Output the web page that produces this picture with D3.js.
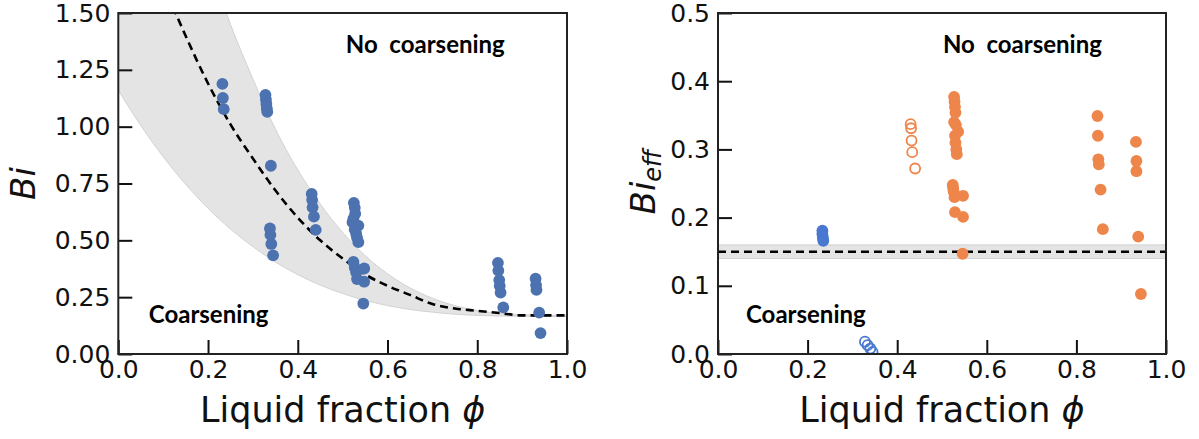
<!DOCTYPE html>
<html><head><meta charset="utf-8">
<script src="https://cdn.jsdelivr.net/npm/d3@7"></script>
<style>body{margin:0;background:#fff} svg{display:block;background:#fff}</style>
</head><body><svg id="c" width="1199" height="439"></svg>
<script>
// ---------- data ----------
const xTicks = [0, 0.2, 0.4, 0.6, 0.8, 1.0];
const leftYTicks = [0, 0.25, 0.5, 0.75, 1.0, 1.25, 1.5];
const rightYTicks = [0, 0.1, 0.2, 0.3, 0.4, 0.5];

// model curve (left panel)
const curvePhi    = [0, 0.05, 0.1, 0.15, 0.2, 0.25, 0.3, 0.35, 0.4, 0.45, 0.5, 0.55, 0.6, 0.65, 0.7, 0.75, 0.8, 0.85, 0.9, 0.95, 1.0];
const dashedBi    = [2.17, 1.89, 1.63, 1.40, 1.19, 1.01, 0.86, 0.72, 0.60, 0.50, 0.42, 0.35, 0.30, 0.26, 0.22, 0.20, 0.19, 0.18, 0.17, 0.17, 0.17];
const bandUpperBi = [3.30, 2.84, 2.43, 2.06, 1.74, 1.45, 1.21, 0.99, 0.81, 0.66, 0.535, 0.433, 0.353, 0.291, 0.245, 0.213, 0.191, 0.179, 0.173, 0.171, 0.17];
const bandLowerBi = [1.16, 1.005, 0.868, 0.747, 0.641, 0.55, 0.472, 0.405, 0.349, 0.303, 0.266, 0.236, 0.213, 0.196, 0.184, 0.175, 0.17, 0.167, 0.166, 0.165, 0.165];

// left panel points
const leftPhi = [0.232, 0.233, 0.235,
  0.328, 0.329, 0.330, 0.331, 0.332, 0.340,
  0.338, 0.339, 0.341, 0.345,
  0.431, 0.432, 0.433, 0.436, 0.440,
  0.525, 0.527, 0.528, 0.524, 0.522, 0.535, 0.527, 0.530, 0.532, 0.535,
  0.524, 0.527, 0.530, 0.548, 0.532, 0.548, 0.546,
  0.846, 0.847, 0.849, 0.850, 0.852, 0.858,
  0.930, 0.931, 0.932, 0.938, 0.941];
const leftBi = [1.188, 1.126, 1.077,
  1.14, 1.12, 1.10, 1.08, 1.065, 0.828,
  0.552, 0.524, 0.484, 0.434,
  0.704, 0.678, 0.645, 0.604, 0.546,
  0.665, 0.643, 0.617, 0.595, 0.58, 0.565, 0.548, 0.53, 0.512, 0.492,
  0.405, 0.38, 0.36, 0.376, 0.33, 0.318, 0.222,
  0.401, 0.367, 0.325, 0.30, 0.27, 0.205,
  0.331, 0.303, 0.282, 0.182, 0.092];

// right panel
const bieffLine = 0.15;
const bieffBand = [0.14, 0.16];
const blueFilledPhi = [0.233, 0.233, 0.234, 0.235];
const blueFilledBi  = [0.181, 0.176, 0.171, 0.166];
const blueOpenPhi = [0.328, 0.334, 0.340, 0.345];
const blueOpenBi  = [0.018, 0.013, 0.008, 0.003];
const orangeOpenPhi = [0.430, 0.431, 0.432, 0.4335, 0.440];
const orangeOpenBi  = [0.337, 0.331, 0.313, 0.296, 0.272];
const orangeFilledPhi = [0.527, 0.528, 0.529, 0.530, 0.527, 0.531, 0.536, 0.529, 0.530, 0.532, 0.533,
  0.524, 0.525, 0.526, 0.528, 0.547, 0.529, 0.547, 0.546,
  0.847, 0.848, 0.849, 0.850, 0.854, 0.859,
  0.933, 0.934, 0.934, 0.938, 0.944];
const orangeFilledBi = [0.377, 0.370, 0.362, 0.354, 0.340, 0.336, 0.326, 0.320, 0.310, 0.300, 0.293,
  0.248, 0.243, 0.238, 0.230, 0.232, 0.208, 0.201, 0.147,
  0.349, 0.320, 0.2855, 0.278, 0.241, 0.183,
  0.311, 0.283, 0.268, 0.172, 0.088];

// ---------- drawing ----------
const svg = d3.select("#c");
const FONT = "DejaVu Sans, sans-serif";
const ANN = "Lato, 'Open Sans', sans-serif";
const C_DEEP = "#4c72b0", C_BLUE = "#4878d0", C_ORANGE = "#ee854a";

function panel(id, x0, x1, yMax, yTicks, yFmt) {
  const top = 13, bottom = 354;
  const x = d3.scaleLinear().domain([0, 1]).range([x0, x1]);
  const y = d3.scaleLinear().domain([0, yMax]).range([bottom, top]);
  svg.append("clipPath").attr("id", id).append("rect")
    .attr("x", x0).attr("y", top).attr("width", x1 - x0).attr("height", bottom - top);
  const g = svg.append("g").attr("clip-path", `url(#${id})`);
  return {x, y, g, x0, x1, top, bottom, yTicks, yFmt};
}

function axes(p) {
  const xa = d3.axisBottom(p.x).tickValues(xTicks).tickFormat(d3.format(".1f"))
    .tickSizeInner(-14).tickSizeOuter(0).tickPadding(6);
  const ya = d3.axisLeft(p.y).tickValues(p.yTicks).tickFormat(d3.format(p.yFmt))
    .tickSizeInner(-14).tickSizeOuter(0).tickPadding(8);
  const gx = svg.append("g").attr("transform", `translate(0,${p.bottom})`).call(xa);
  const gy = svg.append("g").attr("transform", `translate(${p.x0},0)`).call(ya);
  [gx, gy].forEach(a => {
    a.select(".domain").remove();
    a.selectAll("line").attr("stroke", "#111").attr("stroke-width", 2);
    a.selectAll("text").attr("font-family", FONT).attr("font-size", 25).attr("fill", "#111");
  });
  svg.append("rect").attr("x", p.x0).attr("y", p.top)
    .attr("width", p.x1 - p.x0).attr("height", p.bottom - p.top)
    .attr("fill", "none").attr("stroke", "#222").attr("stroke-width", 2);
  const xl = svg.append("text").attr("x", (p.x0 + p.x1) / 2).attr("y", 422)
    .attr("text-anchor", "middle").attr("font-family", FONT).attr("font-size", 35).attr("fill", "#111");
  xl.append("tspan").text("Liquid fraction ");
  xl.append("tspan").attr("font-style", "italic").text("\u03d5");
}

function dots(p, phis, vals, color, open) {
  p.g.append("g").selectAll("circle").data(phis).join("circle")
    .attr("cx", d => p.x(d)).attr("cy", (d, i) => p.y(vals[i]))
    .attr("r", open ? 5 : 5.9)
    .attr("fill", open ? "none" : color)
    .attr("stroke", open ? color : "none")
    .attr("stroke-width", open ? 1.8 : 0);
}

function annot(x, y, txt) {
  svg.append("text").attr("x", x).attr("y", y).attr("font-family", ANN)
    .attr("font-weight", "bold").attr("font-size", 24).attr("fill", "#000").text(txt);
}

// Left panel
const L = panel("clipL", 118.3, 567, 1.5, leftYTicks, ".2f");
const bandData = curvePhi.map((d, i) => ({phi: d, lo: bandLowerBi[i], hi: bandUpperBi[i], mid: dashedBi[i]}));
L.g.append("path").datum(bandData)
  .attr("d", d3.area().x(d => L.x(d.phi)).y0(d => L.y(d.lo)).y1(d => L.y(d.hi)).curve(d3.curveMonotoneX))
  .attr("fill", "#e4e4e4").attr("stroke", "#d2d2d2").attr("stroke-width", 1);
L.g.append("path").datum(bandData)
  .attr("d", d3.line().x(d => L.x(d.phi)).y(d => L.y(d.mid)).curve(d3.curveMonotoneX))
  .attr("fill", "none").attr("stroke", "#000").attr("stroke-width", 2.6).attr("stroke-dasharray", "8,5");
dots(L, leftPhi, leftBi, C_DEEP, false);
axes(L);
svg.append("text").attr("transform", "translate(35,183.5) rotate(-90)")
  .attr("text-anchor", "middle").attr("font-family", FONT).attr("font-size", 34)
  .attr("font-style", "italic").attr("fill", "#111").text("Bi");
annot(L.x(0.507), L.y(1.324), "No \u00a0coarsening");
annot(L.x(0.068), L.y(0.136), "Coarsening");

// Right panel
const R = panel("clipR", 718, 1166, 0.5, rightYTicks, ".1f");
R.g.append("rect").attr("x", R.x(0)).attr("width", R.x(1) - R.x(0))
  .attr("y", R.y(bieffBand[1])).attr("height", R.y(bieffBand[0]) - R.y(bieffBand[1]))
  .attr("fill", "#e4e4e4").attr("stroke", "#d2d2d2").attr("stroke-width", 1);
R.g.append("path").datum([0, 1])
  .attr("d", d3.line().x(d => R.x(d)).y(() => R.y(bieffLine)))
  .attr("fill", "none").attr("stroke", "#000").attr("stroke-width", 2.6).attr("stroke-dasharray", "8,5");
dots(R, blueFilledPhi, blueFilledBi, C_BLUE, false);
dots(R, blueOpenPhi, blueOpenBi, C_BLUE, true);
dots(R, orangeOpenPhi, orangeOpenBi, C_ORANGE, true);
dots(R, orangeFilledPhi, orangeFilledBi, C_ORANGE, false);
axes(R);
const yl = svg.append("text").attr("transform", "translate(655,182) rotate(-90)")
  .attr("text-anchor", "middle").attr("font-family", FONT).attr("font-size", 34)
  .attr("font-style", "italic").attr("fill", "#111");
yl.append("tspan").text("Bi");
yl.append("tspan").attr("font-size", 24).attr("dy", 6).text("eff");
annot(R.x(0.502), R.y(0.441), "No \u00a0coarsening");
annot(R.x(0.0625), R.y(0.045), "Coarsening");
</script>
</body></html>
